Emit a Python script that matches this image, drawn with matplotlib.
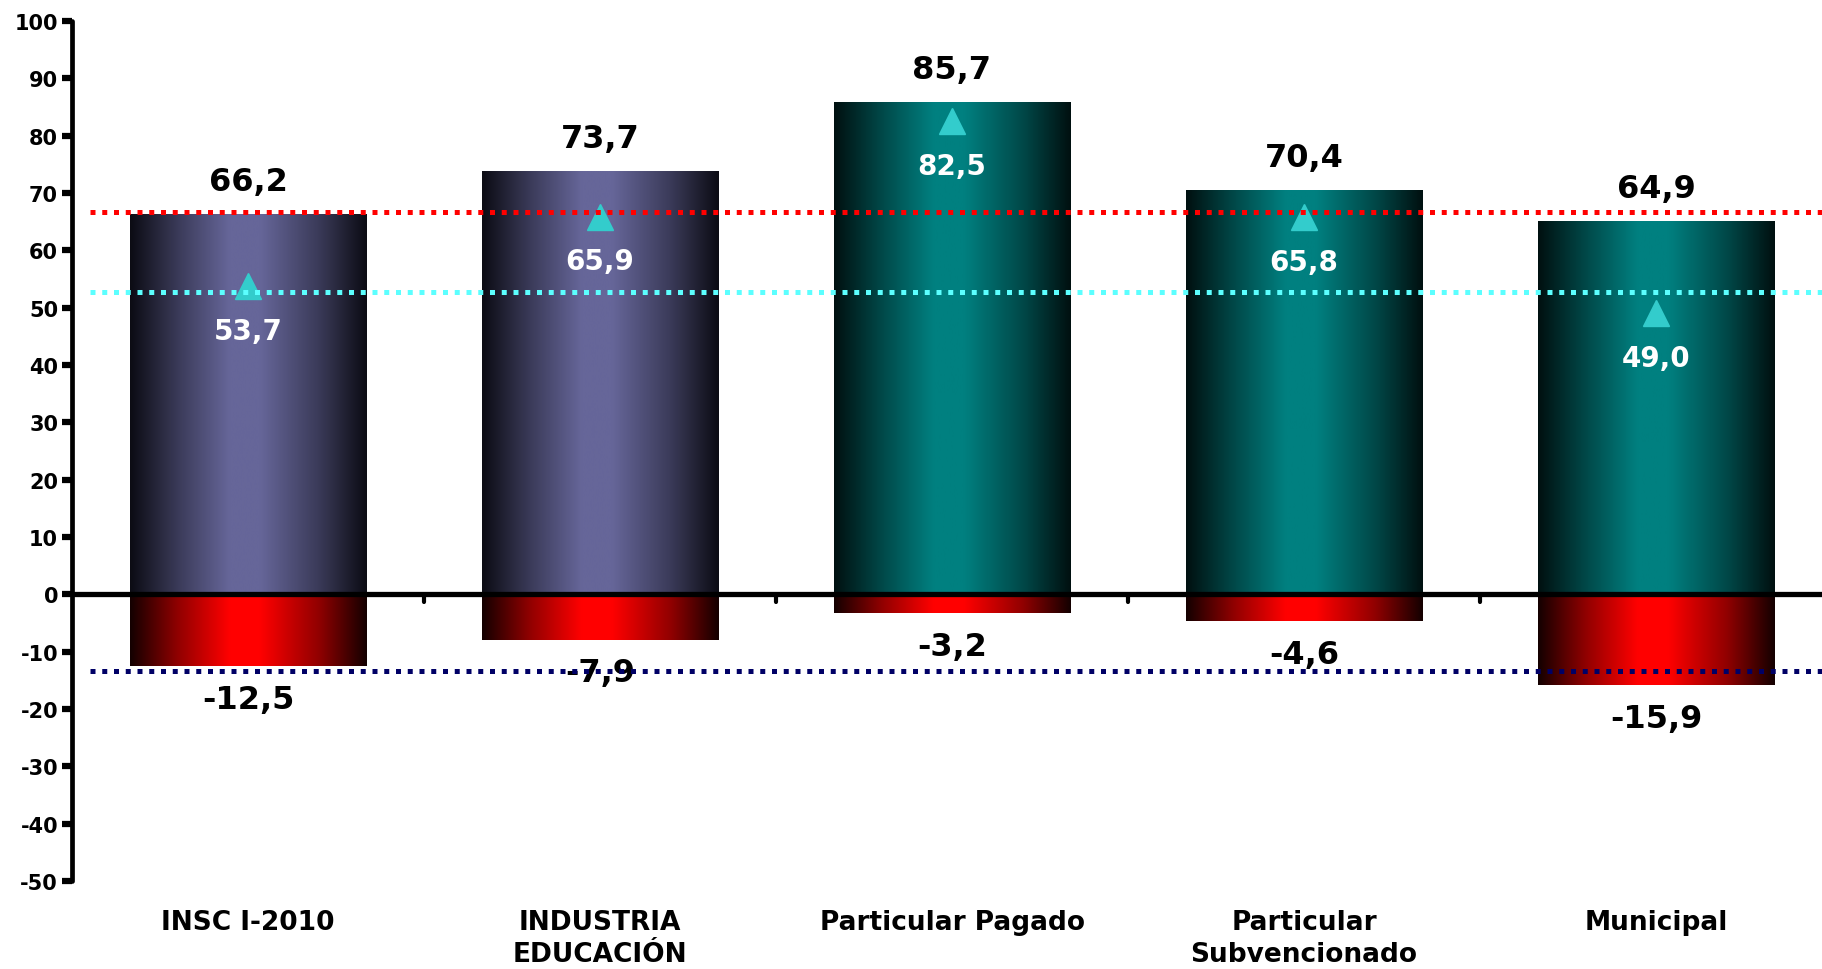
import numpy as np
import matplotlib
matplotlib.use('Agg')
import matplotlib.pyplot as plt
from matplotlib.colors import LinearSegmentedColormap

# data
categories = ['INSC I-2010', 'INDUSTRIA\nEDUCACIÓN', 'Particular Pagado',
              'Particular\nSubvencionado', 'Municipal']
pos_values = [66.2, 73.7, 85.7, 70.4, 64.9]
neg_values = [-12.5, -7.9, -3.2, -4.6, -15.9]
tri_values = [53.7, 65.9, 82.5, 65.8, 49.0]
pos_labels = ['66,2', '73,7', '85,7', '70,4', '64,9']
neg_labels = ['-12,5', '-7,9', '-3,2', '-4,6', '-15,9']
tri_labels = ['53,7', '65,9', '82,5', '65,8', '49,0']
ref_red = 66.7
ref_cyan = 52.8
ref_navy = -13.3
y_ticks = list(range(-50, 101, 10))

# styles
PURPLE = ('#0c0c14', '#3a3a58', '#666699')
TEAL = ('#001010', '#004848', '#008080')
RED = ('#140000', '#900000', '#ff0000')
bar_styles = [PURPLE, PURPLE, TEAL, TEAL, TEAL]
BAR_W = 0.673


def make_cmap(c):
    dark, mid, light = c
    return LinearSegmentedColormap.from_list(
        'g', [(0.0, dark), (0.2, mid), (0.42, light), (0.55, light),
              (0.8, mid), (1.0, dark)])


plt.rcParams['font.family'] = ['DejaVu Sans']
plt.rcParams['font.weight'] = 'bold'
plt.rcParams['axes.unicode_minus'] = False

fig = plt.figure(figsize=(18.22, 9.70), dpi=100)
ax = fig.add_axes([72 / 1822, 88 / 970, 1750 / 1822, 860 / 970])

x = np.arange(len(categories))
grad = np.linspace(0, 1, 256).reshape(1, -1)

pos_bars = ax.bar(x, pos_values, BAR_W, color='none', zorder=1)
neg_bars = ax.bar(x, neg_values, BAR_W, color='none', zorder=1)

for i, (pb, nb) in enumerate(zip(pos_bars, neg_bars)):
    for b, st in ((pb, bar_styles[i]), (nb, RED)):
        x0, w = b.get_x(), b.get_width()
        y0, h = b.get_y(), b.get_height()
        ax.imshow(grad, cmap=make_cmap(st), aspect='auto',
                  extent=[x0, x0 + w, min(y0, y0 + h), max(y0, y0 + h)],
                  interpolation='bicubic', zorder=2)

# triangles
ax.plot(x, tri_values, linestyle='none', marker='^', markersize=19,
        color='#33cccc', zorder=4)

# reference lines
xr = [-0.45, 4.6]
ax.plot(xr, [ref_red] * 2, color='#ff0000', lw=3.6,
        linestyle=(0, (1, 1.35)), zorder=5)
ax.plot(xr, [ref_cyan] * 2, color='#5cffff', lw=3.6,
        linestyle=(0, (1, 1.35)), zorder=5)
ax.plot(xr, [ref_navy] * 2, color='#000066', lw=3.6,
        linestyle=(0, (1, 1.35)), zorder=5)

# zero line and category ticks
ax.axhline(0, color='black', lw=3.8, zorder=3)
ax.vlines(x[:-1] + 0.5, -1.4, 0, color='black', lw=3, zorder=3,
          capstyle='round')

# labels
for i in range(len(x)):
    ax.annotate(pos_labels[i], (x[i], pos_values[i]), xytext=(0, 24),
                textcoords='offset points', ha='center', va='center',
                fontsize=23, fontweight='bold', color='black', zorder=6)
    ax.annotate(neg_labels[i], (x[i], neg_values[i]), xytext=(0, -24),
                textcoords='offset points', ha='center', va='center',
                fontsize=23, fontweight='bold', color='black', zorder=4)
    ax.annotate(tri_labels[i], (x[i], tri_values[i]), xytext=(0, -32),
                textcoords='offset points', ha='center', va='center',
                fontsize=20, fontweight='bold', color='white', zorder=6)

ax.set_xlim(-0.5, -0.5 + 1750 / 352)
ax.set_ylim(-50, 100)
ax.set_yticks(y_ticks)
ax.set_xticks(x)
ax.set_xticklabels(categories, fontsize=19, fontweight='bold',
                   linespacing=1.3)
ax.tick_params(axis='x', length=0, pad=20)
ax.tick_params(axis='y', direction='out', length=7, width=4.5,
               labelsize=15, pad=3)
for lab in ax.get_yticklabels():
    lab.set_fontweight('bold')

for s in ('top', 'right', 'bottom'):
    ax.spines[s].set_visible(False)
ax.spines['left'].set_linewidth(3.4)
ax.spines['left'].set_capstyle('round')
ax.patch.set_alpha(0)

fig.savefig('out.png', dpi=100)
